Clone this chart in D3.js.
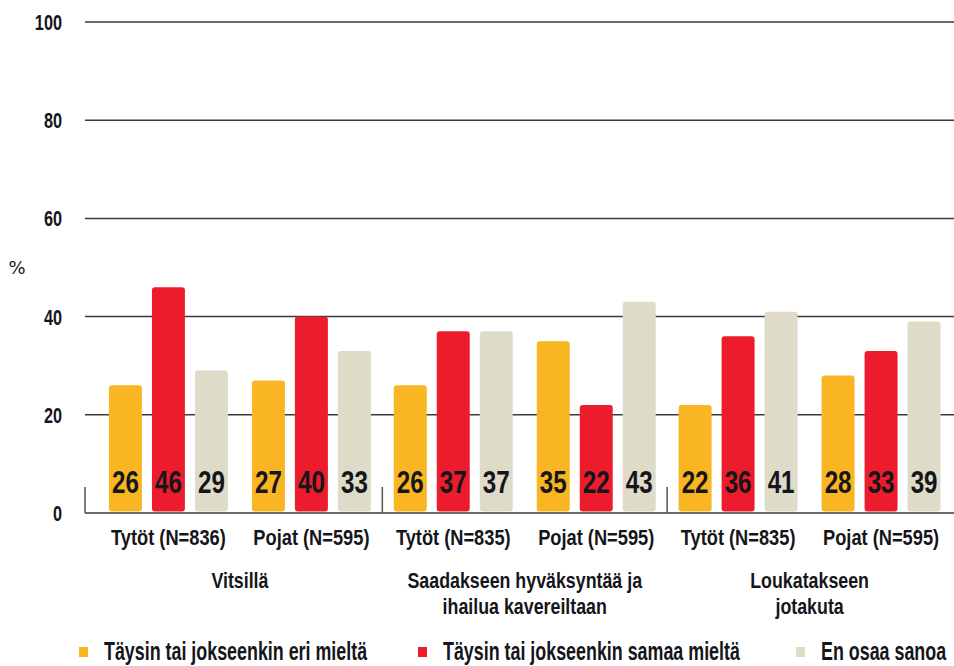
<!DOCTYPE html>
<html>
<head>
<meta charset="utf-8">
<script src="https://cdn.jsdelivr.net/npm/d3@7"></script>
<style>
  body { margin: 0; background: #fff; }
  text { font-family: "Liberation Sans", Arial, sans-serif; font-weight: bold; fill: #15151a; }
</style>
</head>
<body>
<div id="chart"></div>
<script>
// data
var groups = ["Vitsillä", "Saadakseen hyväksyntää ja ihailua kavereiltaan", "Loukatakseen jotakuta"];
var groupLines = [["Vitsillä"], ["Saadakseen hyväksyntää ja", "ihailua kavereiltaan"], ["Loukatakseen", "jotakuta"]];
var subgroups = ["Tytöt", "Pojat"];
var subLabels = [["Tytöt (N=836)", "Pojat (N=595)"], ["Tytöt (N=835)", "Pojat (N=595)"], ["Tytöt (N=835)", "Pojat (N=595)"]];
var series = ["Täysin tai jokseenkin eri mieltä", "Täysin tai jokseenkin samaa mieltä", "En osaa sanoa"];
var colors = ["#F9B522", "#EC1C2C", "#DEDBC8"];
var eriMielta   = [26, 27, 26, 35, 22, 28];
var samaaMielta = [46, 40, 37, 22, 36, 33];
var enOsaa      = [29, 33, 37, 43, 41, 39];
var yTicks = [0, 20, 40, 60, 80, 100];

var width = 954, height = 666;
var svg = d3.select("#chart").append("svg")
    .attr("width", width).attr("height", height);

// condensed text: regular font squeezed horizontally
function ctext(parent, x, y, size, sx, anchor, str) {
  return parent.append("text")
    .attr("transform", "translate(" + x + "," + y + ") scale(" + sx + ",1)")
    .attr("text-anchor", anchor)
    .style("font-size", size + "px")
    .text(str);
}

// scales
var y = d3.scaleLinear().domain([0, 100]).range([513, 22]);
var x0 = d3.scaleBand().domain(groups).range([97.5, 952]);
var x1 = d3.scaleBand().domain(subgroups).range([0, x0.bandwidth()])
    .paddingInner(0.168).paddingOuter(0.08);
var x2 = d3.scaleBand().domain(series).range([0, x1.bandwidth()])
    .paddingInner(0.233);

var values = [eriMielta, samaaMielta, enOsaa];
var data = [];
groups.forEach(function(g, gi) {
  subgroups.forEach(function(s, si) {
    series.forEach(function(se, k) {
      data.push({ g: g, s: s, se: se, k: k, v: values[k][gi * 2 + si] });
    });
  });
});

// grid lines
var axisLeftX = 85, axisRightX = 954;
svg.append("g").selectAll("line.grid")
  .data(yTicks).enter().append("line")
  .attr("x1", axisLeftX).attr("x2", axisRightX)
  .attr("y1", function(d) { return y(d); })
  .attr("y2", function(d) { return y(d); })
  .attr("stroke", "#3a3a3a").attr("stroke-width", 1.5);

// y tick labels
var gy = svg.append("g");
yTicks.forEach(function(t) {
  ctext(gy, 62, y(t) + 8, 22, 0.74, "end", t);
});

svg.append("text")
  .attr("x", 17).attr("y", 274)
  .attr("text-anchor", "middle")
  .style("font-family", "'DejaVu Sans', sans-serif")
  .style("font-weight", "normal")
  .style("font-size", "18px")
  .text("%");

// separator ticks
var seps = [axisLeftX].concat(groups.slice(1).map(function(g) { return x0(g); }));
svg.append("g").selectAll("line")
  .data(seps).enter().append("line")
  .attr("x1", function(d) { return d; }).attr("x2", function(d) { return d; })
  .attr("y1", y(0) - 26).attr("y2", y(0))
  .attr("stroke", "#555").attr("stroke-width", 1.5);

// bars
svg.append("g").selectAll("rect")
  .data(data).enter().append("rect")
  .attr("x", function(d) { return x0(d.g) + x1(d.s) + x2(d.se); })
  .attr("y", function(d) { return y(d.v); })
  .attr("width", x2.bandwidth())
  .attr("height", function(d) { return y(0) - y(d.v) - 1.5; })
  .attr("rx", 3)
  .attr("fill", function(d) { return colors[d.k]; });

// value labels
var gv = svg.append("g");
data.forEach(function(d) {
  ctext(gv, x0(d.g) + x1(d.s) + x2(d.se) + x2.bandwidth() / 2, 493, 31, 0.78, "middle", d.v);
});

// sub labels and group labels
groups.forEach(function(g, gi) {
  subgroups.forEach(function(s, si) {
    ctext(svg, x0(g) + x1(s) + x1.bandwidth() / 2, 545, 22, 0.83, "middle", subLabels[gi][si]);
  });
  groupLines[gi].forEach(function(line, li) {
    ctext(svg, x0(g) + x0.bandwidth() / 2, 588 + li * 26, 22, 0.81, "middle", line);
  });
});

// legend
var legendX = [79, 418, 796];
series.forEach(function(s, i) {
  var lg = svg.append("g").attr("transform", "translate(" + legendX[i] + ",0)");
  lg.append("rect")
    .attr("x", 0).attr("y", 647)
    .attr("width", 9).attr("height", 10)
    .attr("fill", colors[i]);
  ctext(lg, 25, 660, 25, 0.715, "start", s);
});
</script>
</body>
</html>
